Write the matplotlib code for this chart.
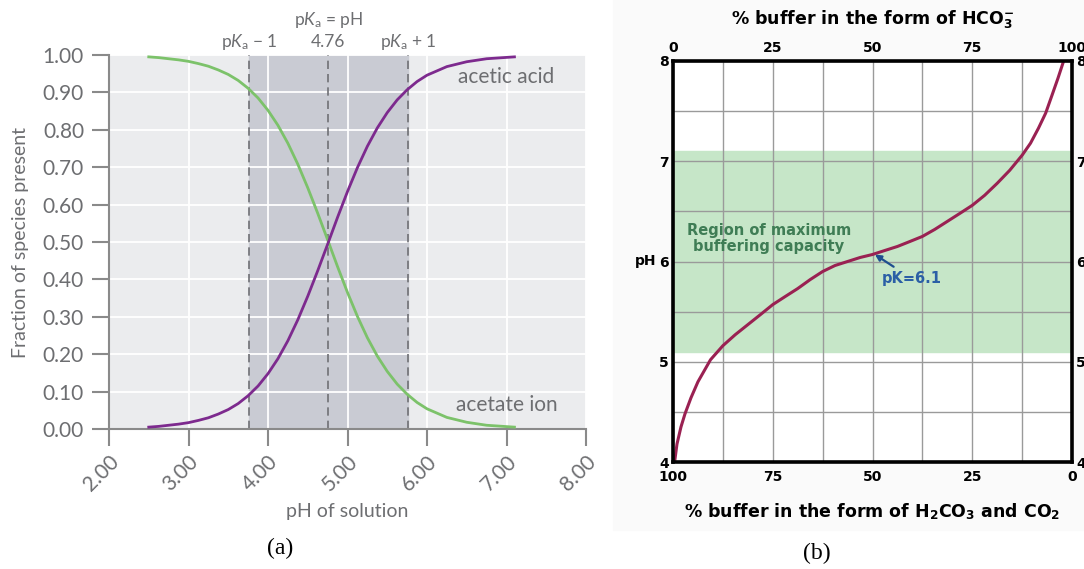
import matplotlib.pyplot as plt
from matplotlib.patches import Rectangle

# ---- panel (a): acetic acid / acetate fractions vs pH
ph = [2.5, 2.625, 2.75, 2.875, 3.0, 3.125, 3.25, 3.375, 3.5, 3.625, 3.75, 3.875,
      4.0, 4.125, 4.25, 4.375, 4.5, 4.625, 4.75, 4.875, 5.0, 5.125, 5.25, 5.375,
      5.5, 5.625, 5.75, 5.875, 6.0, 6.25, 6.5, 6.75, 7.1]
acetic_acid = [0.005, 0.007, 0.010, 0.013, 0.017, 0.023, 0.030, 0.040, 0.052, 0.068,
               0.089, 0.115, 0.148, 0.188, 0.236, 0.292, 0.355, 0.423, 0.494, 0.566,
               0.635, 0.699, 0.756, 0.805, 0.846, 0.880, 0.907, 0.929, 0.946, 0.969,
               0.982, 0.990, 0.995]
acetate_ion = [0.995, 0.993, 0.990, 0.987, 0.983, 0.977, 0.970, 0.960, 0.948, 0.932,
               0.911, 0.885, 0.852, 0.812, 0.764, 0.708, 0.645, 0.577, 0.506, 0.434,
               0.365, 0.301, 0.244, 0.195, 0.154, 0.120, 0.093, 0.071, 0.054, 0.031,
               0.018, 0.010, 0.005]
pka = 4.76
pka_lines = [3.76, 4.76, 5.76]
xticks_a = [2, 3, 4, 5, 6, 7, 8]
yticks_a = [0.0, 0.1, 0.2, 0.3, 0.4, 0.5, 0.6, 0.7, 0.8, 0.9, 1.0]

# ---- panel (b): bicarbonate buffer, pH vs % in the form of HCO3-
hco3_pct = [0.4, 1.0, 2.0, 3.0, 4.5, 6.25, 9.4, 12.5, 15.6, 18.75, 21.9, 25.0,
            28.1, 31.25, 34.4, 37.5, 40.6, 43.75, 46.9, 50.0, 53.1, 56.25, 59.4,
            62.5, 65.6, 68.75, 71.9, 75.0, 78.1, 81.25, 84.4, 87.5, 89.6, 91.6,
            93.4, 95.0, 96.5, 97.9]
ph_b = [4.00, 4.18, 4.35, 4.48, 4.64, 4.80, 5.02, 5.16, 5.27, 5.37, 5.47, 5.57,
        5.65, 5.73, 5.82, 5.90, 5.96, 6.00, 6.04, 6.07, 6.11, 6.15, 6.20,
        6.25, 6.32, 6.40, 6.48, 6.56, 6.66, 6.78, 6.91, 7.06, 7.18, 7.33,
        7.48, 7.66, 7.83, 8.00]
band_b = (5.1, 7.1)
pct_ticks = [0, 25, 50, 75, 100]
top_labels = ["0", "25", "50", "75", "100"]
bottom_labels = ["100", "75", "50", "25", "0"]
ph_ticks = [4, 5, 6, 7, 8]

plt.rcParams['font.family'] = ['Lato', 'DejaVu Sans']
plt.rcParams['mathtext.fontset'] = 'custom'
plt.rcParams['mathtext.rm'] = 'Lato'
plt.rcParams['mathtext.it'] = 'Lato:italic'
plt.rcParams['mathtext.bf'] = 'DejaVu Sans:bold'

GRAY_TXT = '#6d6e71'
fig = plt.figure(figsize=(10.84, 5.69), dpi=100)

# faint backdrop behind panel (b)
fig.patches.append(Rectangle((613 / 1084, 1 - 530 / 569), 1 - 613 / 1084, 530 / 569,
                             transform=fig.transFigure, color='#fafafa', zorder=-1))

# ---------------- panel (a)
ax1 = fig.add_axes([109 / 1084, 1 - 429 / 569, 477 / 1084, 374 / 569])
ax1.set_facecolor('#ebecee')
ax1.axvspan(pka_lines[0], pka_lines[-1], color='#c9cbd3', zorder=0.2)
ax1.set_axisbelow('line')
ax1.grid(color='white', lw=1.3)
for x in pka_lines:
    ax1.axvline(x, color='#6f7075', lw=1.2, ls=(0, (5, 3)), zorder=1.8)

ax1.plot(ph, acetate_ion, color='#7cc26a', lw=2, zorder=3)
ax1.plot(ph, acetic_acid, color='#7d2a8e', lw=2, zorder=3)

ax1.set_xlim(2, 8)
ax1.set_ylim(0, 1)
ax1.set_xticks(xticks_a)
ax1.set_xticklabels([f"{v:.2f}" for v in xticks_a], rotation=45, ha='right',
                    rotation_mode='anchor')
ax1.set_yticks(yticks_a)
ax1.set_yticklabels([f"{v:.2f}" for v in yticks_a])
ax1.tick_params(colors='#8a8a8a', labelcolor=GRAY_TXT, length=12, width=1.5,
                labelsize=15)
ax1.tick_params(axis='y', pad=6)
ax1.tick_params(axis='x', pad=4)
for s in ['top', 'right']:
    ax1.spines[s].set_visible(False)
for s in ['left', 'bottom']:
    ax1.spines[s].set_color('#8a8a8a')
    ax1.spines[s].set_linewidth(1.5)
ax1.set_xlabel('pH of solution', color=GRAY_TXT, fontsize=14, labelpad=6)
ax1.set_ylabel('Fraction of species present', color=GRAY_TXT, fontsize=14,
               labelpad=10)

tr = ax1.get_xaxis_transform()
ax1.text(pka_lines[0], 1.035, r'p$\mathit{K}_\mathrm{a}$ − 1', transform=tr,
         ha='center', va='center', color=GRAY_TXT, fontsize=12.5)
ax1.text(pka, 1.094, r'p$\mathit{K}_\mathrm{a}$ = pH', transform=tr,
         ha='center', va='center', color=GRAY_TXT, fontsize=12.5)
ax1.text(pka, 1.035, f'{pka:.2f}', transform=tr,
         ha='center', va='center', color=GRAY_TXT, fontsize=12.5)
ax1.text(pka_lines[-1], 1.035, r'p$\mathit{K}_\mathrm{a}$ + 1', transform=tr,
         ha='center', va='center', color=GRAY_TXT, fontsize=12.5)
ax1.text(7.0, 0.94, 'acetic acid', ha='center', va='center', color=GRAY_TXT,
         fontsize=15)
ax1.text(7.0, 0.064, 'acetate ion', ha='center', va='center', color=GRAY_TXT,
         fontsize=15)

# ---------------- panel (b)
BF = 'DejaVu Sans'
ax2 = fig.add_axes([673 / 1084, 1 - 462 / 569, 399 / 1084, 401 / 569])
ax2.set_facecolor('white')
ax2.axhspan(*band_b, color='#c6e6c8', zorder=0.2)
ax2.set_xlim(0, 100)
ax2.set_ylim(4, 8)
ax2.set_xticks(pct_ticks)
ax2.set_xticks([12.5, 37.5, 62.5, 87.5], minor=True)
ax2.set_yticks(ph_ticks)
ax2.set_yticks([4.5, 5.5, 6.5, 7.5], minor=True)
ax2.set_axisbelow('line')
ax2.grid(which='both', color='#9a9a9a', lw=1)
ax2.plot(hco3_pct, ph_b, color='#9a2152', lw=2.2, zorder=3, solid_capstyle='round',
         solid_joinstyle='round')

ax2.set_xticklabels(bottom_labels, fontfamily=BF, fontweight='bold')
ax2.set_yticklabels([str(v) for v in ph_ticks], fontfamily=BF, fontweight='bold')
ax2.tick_params(which='both', length=0, labelsize=10, labelright=True)
ax2.tick_params(axis='x', pad=6)
ax2.tick_params(axis='y', pad=3)
for s in ax2.spines.values():
    s.set_linewidth(2.6)
    s.set_color('black')
    s.set_zorder(4)

top = ax2.secondary_xaxis('top')
top.set_xticks(pct_ticks)
top.set_xticklabels(top_labels, fontfamily=BF, fontweight='bold')
top.tick_params(length=0, labelsize=10, pad=4)
top.spines['top'].set_visible(False)

ax2.set_ylabel('pH', rotation=0, fontfamily=BF, fontweight='bold', fontsize=10,
               va='center', ha='center')
ax2.yaxis.set_label_coords(-0.068, 0.5)

ax2.text(0.5, 1.102, r'% buffer in the form of HCO$_\mathbf{3}^\mathbf{-}$',
         transform=ax2.transAxes, ha='center', va='center', fontfamily=BF,
         fontweight='bold', fontsize=12.5)
ax2.text(0.5, -0.125,
         r'% buffer in the form of H$_\mathbf{2}$CO$_\mathbf{3}$ and CO$_\mathbf{2}$',
         transform=ax2.transAxes, ha='center', va='center', fontfamily=BF,
         fontweight='bold', fontsize=12.5)

ax2.text(24, 6.23, 'Region of maximum\nbuffering capacity', ha='center',
         va='center', color='#3f7d55', fontfamily=BF, fontweight='bold',
         fontsize=10.5, linespacing=1.15, zorder=5)
ax2.annotate(f'pK={6.1}', xy=(50.6, 6.07), xytext=(52.3, 5.83),
             ha='left', va='center', color='#2b5fa6', fontfamily=BF,
             fontweight='bold', fontsize=10.5, zorder=5,
             arrowprops=dict(arrowstyle='-|>', color='#1f4f8f', lw=1.6,
                             shrinkA=2, shrinkB=0, mutation_scale=9))

fig.text(280 / 1084, 1 - 548 / 569, '(a)', ha='center', va='center',
         fontfamily='Liberation Serif', fontsize=17)
fig.text(817 / 1084, 1 - 553 / 569, '(b)', ha='center', va='center',
         fontfamily='Liberation Serif', fontsize=17)

fig.savefig('out.png', dpi=100, facecolor='white')
